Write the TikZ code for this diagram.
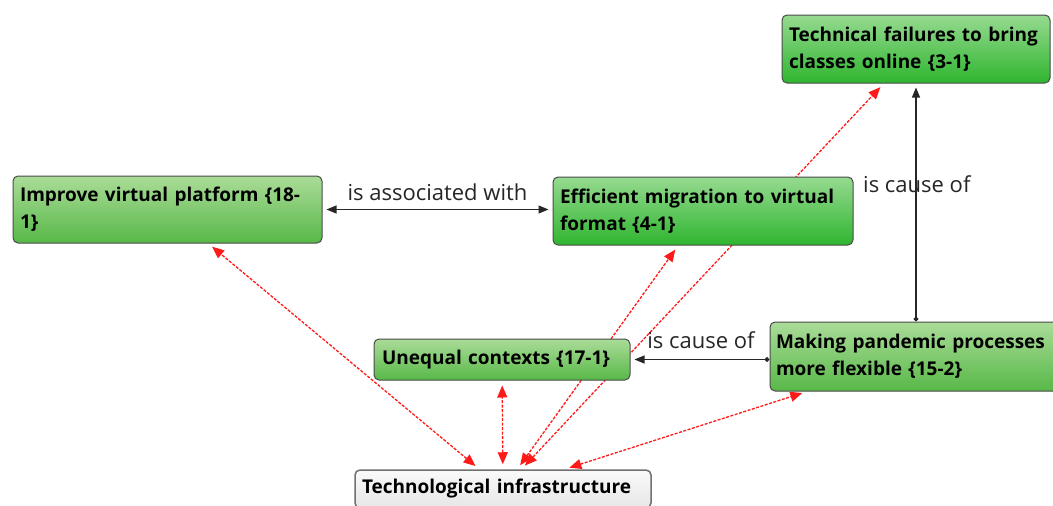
\documentclass[tikz,border=0pt]{standalone}
\usepackage{fontspec}
\setmainfont{Open Sans}
\newfontfamily\labelfont{Open Sans}
\usetikzlibrary{arrows.meta}
\pgfdeclarelayer{bg}
\pgfsetlayers{bg,main}

\definecolor{boxline}{HTML}{4A4A4A}
\definecolor{gtopA}{HTML}{96DA90}
\definecolor{gbotA}{HTML}{2FB52F}
\definecolor{gtopB}{HTML}{AADC98}
\definecolor{gbotB}{HTML}{58B848}
\definecolor{infraline}{HTML}{707070}
\definecolor{infratop}{HTML}{FAFAFA}
\definecolor{infrabot}{HTML}{E6E6E6}
\definecolor{linkred}{HTML}{FF1A1A}

\tikzset{
  code/.style={draw=boxline, line width=1pt, rounded corners=5pt,
    inner sep=0pt, align=left,
    font=\fontsize{19}{27}\selectfont\bfseries},
  codeA/.style={code, top color=gtopA, bottom color=gbotA},
  codeB/.style={code, top color=gtopB, bottom color=gbotB},
  infra/.style={code, draw=infraline, line width=1.5pt,
    top color=infratop, bottom color=infrabot},
  rel/.style={draw=black!85, line width=1.1pt},
  reltwo/.style={{Triangle[length=10pt,width=8pt]}-{Triangle[length=10pt,width=8pt]}},
  reldot/.style={{Circle[length=5pt]}-{Triangle[length=10pt,width=8pt]}},
  assoc/.style={draw=linkred, line width=1.3pt, dash pattern=on 3pt off 1.5pt,
    {Triangle[length=12pt,width=10pt]}-{Triangle[length=12pt,width=10pt]},
    shorten <=5pt, shorten >=5pt},
  lbl/.style={font=\labelfont\fontsize{22}{24}\selectfont, text=black!85, inner sep=0pt}
}

\begin{document}
\begin{tikzpicture}[x=1pt,y=-1pt]
\useasboundingbox (0,0) rectangle (1053,506);

% codes
\node[codeA, minimum width=268pt, minimum height=68pt, text width=254pt]
  (techfail) at (916,49) {Technical failures to bring\\classes online \{3-1\}};
\node[codeB, minimum width=309pt, minimum height=67pt, text width=295pt]
  (improve) at (167.5,209.5) {Improve virtual platform \{18-\\1\}};
\node[codeA, minimum width=300pt, minimum height=68pt, text width=286pt]
  (efficient) at (703,211) {Efficient migration to virtual\\format \{4-1\}};
\node[codeB, minimum width=256pt, minimum height=41pt, text width=240pt]
  (unequal) at (502,359.5) {Unequal contexts \{17-1\}};
\node[codeB, minimum width=292pt, minimum height=69pt, text width=280pt]
  (making) at (916,356.5) {Making pandemic processes\\more flexible \{15-2\}};
\node[infra, minimum width=296pt, minimum height=38pt, text width=282pt]
  (infra) at (503,489) {Technological infrastructure};

% links drawn beneath the boxes
\begin{pgfonlayer}{bg}
  \draw[assoc] (infra) -- (improve);
  \draw[assoc] (infra) -- (unequal);
  \draw[assoc] (infra) -- (efficient);
  \draw[assoc] (infra) -- (techfail);
  \draw[assoc] (infra) -- (making);

  \draw[rel, reltwo, shorten <=4pt, shorten >=4pt]
    (improve.east) -- (improve.east -| efficient.west);
  \draw[rel, reldot, shorten >=4pt]
    (making.west |- unequal.east) -- (unequal.east);
  \draw[rel, reldot, shorten >=4pt]
    (making.north) -- (techfail.south);
\end{pgfonlayer}

% relation labels
\node[lbl] (lassoc) at (437.5,192) {is associated with};
\node[lbl] (lcause1) at (701,340) {is cause of};
\node[lbl, anchor=west] (lcause2) at (863,184) {is cause of};
\end{tikzpicture}
\end{document}
